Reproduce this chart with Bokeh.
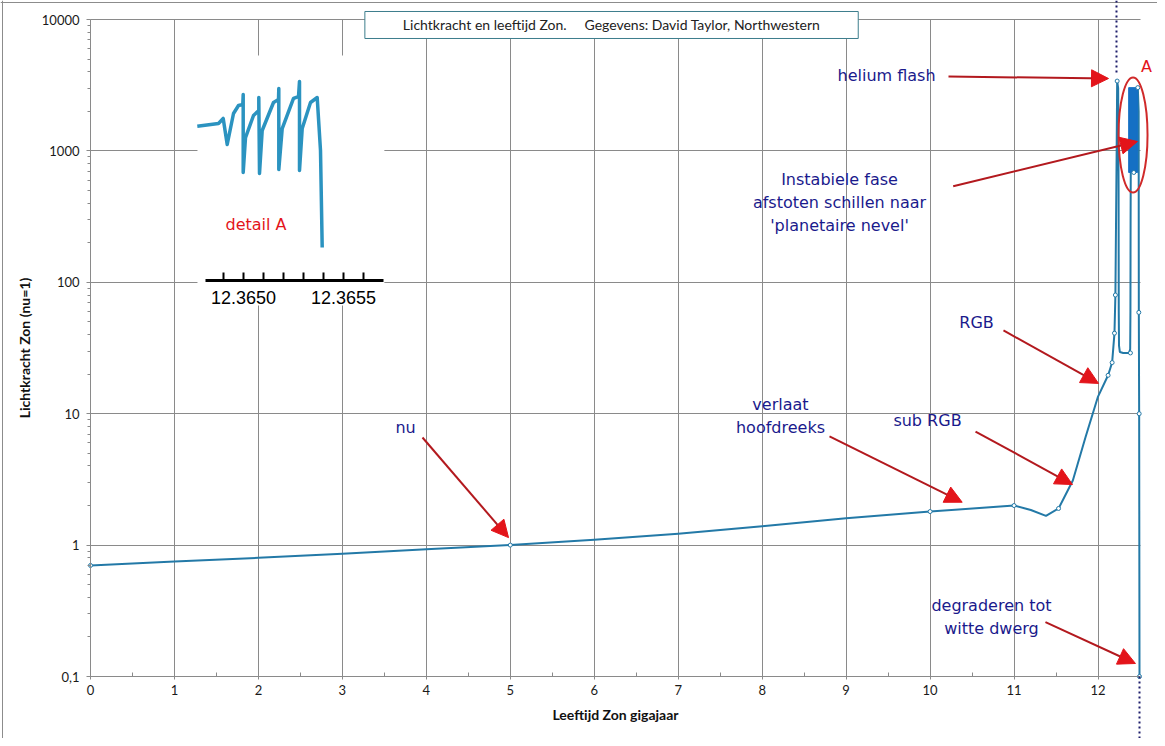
from bokeh.plotting import figure
from bokeh.models import (Range1d, FixedTicker, CustomJSTickFormatter,
                          Arrow, NormalHead, Label, Span)
from bokeh.embed import file_html
from bokeh.resources import INLINE
from bokeh.core.properties import value

# ---------------- data ----------------
age_gyr = [0, 1, 2, 3, 4, 5, 6, 7, 8, 9, 10, 11, 11.2, 11.38, 11.53, 11.7, 11.85,
           12.0, 12.12, 12.168, 12.196, 12.207, 12.222, 12.228,
           12.24, 12.245, 12.247, 12.25, 12.26, 12.30, 12.37, 12.383, 12.386, 12.388, 12.39,
           12.474, 12.484, 12.486, 12.49, 12.494]
luminosity = [0.70, 0.75, 0.80, 0.86, 0.93, 1.00, 1.10, 1.22, 1.39, 1.60, 1.80, 2.00, 1.85, 1.67, 1.90, 3.1, 6.6,
              13.5, 19.6, 24.5, 41, 80, 1000, 3400,
              3000, 500, 60, 33, 29.5, 29, 29, 31, 60, 300, 685,
              3030, 2000, 59, 10, 0.1]

marker_age = [0, 5, 10, 11, 11.53, 12.12, 12.168, 12.196, 12.207, 12.228, 12.386, 12.426, 12.474, 12.486, 12.49, 12.494]
marker_lum = [0.70, 1.00, 1.80, 2.00, 1.90, 19.6, 24.5, 41, 80, 3400, 29, 685, 3030, 59, 10, 0.1]

# thermal pulse band (region "A")
band_age_start = [12.365]
band_age_end = [12.47]
band_lum_low = [685]
band_lum_high = [3030]

# detail A (inset)
detail_age = [12.364769, 12.364875, 12.3648985, 12.3649185, 12.36495, 12.364975, 12.3649965,
              12.3649985, 12.3649985, 12.36501, 12.36505, 12.3650765, 12.3650765, 12.36508,
              12.3650935, 12.36515, 12.365175, 12.3651765, 12.3651765, 12.3651935, 12.36525,
              12.365275, 12.36528, 12.36528, 12.3652935, 12.365335, 12.3653685, 12.365385, 12.3653935]
detail_lum = [1542, 1617, 1766, 1119, 1926, 2217, 2256,
              2685, 685, 1264, 1860, 2030, 2548, 673,
              1430, 2335, 2462, 2985, 722, 1480, 2506,
              2594, 3376, 710, 1480, 2335, 2548, 1007, 184]
detail_ticks = [12.3649, 12.3650, 12.3651, 12.3652, 12.3653, 12.3654, 12.3655, 12.3656]
detail_tick_labels = ["12.3650", "12.3655"]
detail_label_ticks = [12.3650, 12.3655]

x_ticks = list(range(0, 13))
x_minor_ticks = [i + 0.5 for i in range(12)]
y_ticks = [0.1, 1, 10, 100, 1000, 10000]
y_minor_ticks = [k * 10.0 ** e for e in range(-1, 4) for k in range(2, 10)]

title_text = "Lichtkracht en leeftijd Zon.\u00a0\u00a0\u00a0\u00a0\u00a0Gegevens: David Taylor, Northwestern"
x_title = "Leeftijd Zon gigajaar"
y_title = "Lichtkracht Zon (nu=1)"

# ---------------- styles / layout ----------------
LINE = "#2379a7"
BAND = "#1570c4"
NAVY = "#1a1a8c"
RED = "#e3141a"
SHAFT = "#b3191e"
GRID = "#8a8a8a"

W, H = 1157, 738
LEFT_PX, TOP_PX = 90, 19          # canvas position of (0 Gyr, 10000)
PX_PER_GYR = 83.96
PX_PER_DECADE = 131.4
X_START = -LEFT_PX / PX_PER_GYR
X_END = (W - LEFT_PX) / PX_PER_GYR
Y_TOP = 10 ** (4 + TOP_PX / PX_PER_DECADE)
Y_BOTTOM = 10 ** (4 - (H - TOP_PX) / PX_PER_DECADE)

p = figure(width=W, height=H,
           x_range=Range1d(X_START, X_END), y_range=Range1d(Y_BOTTOM, Y_TOP),
           y_axis_type="log", output_backend="svg", toolbar_location=None,
           min_border_left=0, min_border_right=0, min_border_top=0, min_border_bottom=0)
p.outline_line_color = None
inset_start = 12.3650 - 243 * 5e-6
p.extra_x_ranges = {"inset": Range1d(inset_start, inset_start + W * 5e-6)}

# axes
xa = p.xaxis[0]
xa.ticker = FixedTicker(ticks=x_ticks, minor_ticks=x_minor_ticks)
xa.bounds = (0, 12.5)
xa.fixed_location = 0.1
xa.axis_label = x_title
ya = p.yaxis[0]
ya.ticker = FixedTicker(ticks=y_ticks, minor_ticks=y_minor_ticks)
ya.formatter = CustomJSTickFormatter(code="return String(tick).replace('.', ',');")
ya.bounds = (0.1, 10000)
ya.fixed_location = 0
ya.axis_label = y_title
for ax in (xa, ya):
    ax.axis_line_color = GRID
    ax.major_tick_line_color = GRID
    ax.minor_tick_line_color = GRID
    ax.major_label_text_font = "Lato"
    ax.major_label_text_font_size = "13px"
    ax.major_label_text_color = "#1a1a1a"
    ax.axis_label_text_font = "Lato"
    ax.axis_label_text_font_style = "bold"
    ax.axis_label_text_font_size = "14px"
    ax.axis_label_text_color = "#111111"
xa.major_tick_in = 0
xa.major_tick_out = 3
xa.minor_tick_in = 4
xa.minor_tick_out = 0
xa.major_label_standoff = 5
xa.axis_label_standoff = 8
ya.major_tick_in = 0
ya.major_tick_out = 4
ya.minor_tick_in = 0
ya.minor_tick_out = 3
ya.major_label_standoff = 7
ya.axis_label_standoff = 6

p.xgrid.grid_line_color = GRID
p.ygrid.grid_line_color = GRID
p.ygrid.cross_bounds = (0, 12.5)
p.xgrid.cross_bounds = (0.1, 10000)

# outer chart border (left and top edges)
p.add_layout(Span(location=(2 - LEFT_PX) / PX_PER_GYR, dimension="height",
                  line_color="#8c8c8c", line_width=1))
p.add_layout(Span(location=10 ** (4 + (TOP_PX - 2) / PX_PER_DECADE), dimension="width",
                  line_color="#8c8c8c", line_width=1))

# main series
p.line(age_gyr, luminosity, line_color=LINE, line_width=2, line_join="round")
p.quad(left=band_age_start, right=band_age_end, bottom=band_lum_low, top=band_lum_high,
       fill_color=BAND, line_color=BAND)
p.scatter(marker_age, marker_lum, marker="circle", size=4, fill_color="white",
          line_color=LINE, line_width=1)

# ellipse around region A
p.ellipse(x=[12.417], y=[1321], width=29, height=115, width_units="screen",
          height_units="screen", fill_color=None, line_color="#d02a2a", line_width=2)

# inset "detail A"
p.quad(left=[1.274], right=[3.50], bottom=[66.6], top=[5321], fill_color="white", line_color=None)
p.line(detail_age, detail_lum, x_range_name="inset", line_color="#2b93c0", line_width=3.5,
       line_join="round")
p.segment(x0=[12.36481], y0=[103.2], x1=[12.3657], y1=[103.2], x_range_name="inset",
          line_color="black", line_width=3)
p.segment(x0=detail_ticks, y0=[103.2] * len(detail_ticks), x1=detail_ticks,
          y1=[118.8] * len(detail_ticks), x_range_name="inset", line_color="black", line_width=2)
p.text(x=detail_label_ticks, y=[77] * len(detail_label_ticks), text=detail_tick_labels,
       x_range_name="inset", text_align="center", text_baseline="middle",
       text_font=value("Liberation Sans"), text_font_size="18px", text_color="black")

def note(text, x, y, color=NAVY, size="16px", font="DejaVu Sans"):
    p.add_layout(Label(x=x, y=y, text=text, text_color=color, text_font=font,
                       text_font_size=size, text_align="center", text_baseline="middle"))

note("detail A", 1.971, 275, color=RED)
note("A", 12.577, 4386, color=RED)
note("helium flash", 9.481, 3750)
note("Instabiele fase", 8.921, 605)
note("afstoten schillen naar", 8.921, 405)
note("'planetaire nevel'", 8.921, 270)
note("RGB", 10.553, 49.5)
note("sub RGB", 9.969, 8.87)
note("verlaat", 8.218, 11.75)
note("hoofdreeks", 8.218, 7.85)
note("nu", 3.752, 7.79)
note("degraderen tot", 10.731, 0.347)
note("witte dwerg", 10.731, 0.2317)

def arrow(x0, y0, x1, y1):
    p.add_layout(Arrow(end=NormalHead(size=17, fill_color=RED, line_color=RED),
                       x_start=x0, y_start=y0, x_end=x1, y_end=y1,
                       line_color=SHAFT, line_width=2))

arrow(10.219, 3682, 12.125, 3556)
arrow(10.275, 538, 12.470, 1179)
arrow(10.874, 43, 12.006, 17.0)
arrow(10.541, 7.32, 11.696, 2.89)
arrow(8.802, 6.71, 10.382, 2.12)
arrow(3.954, 6.59, 4.979, 1.14)
arrow(11.374, 0.259, 12.446, 0.1256)

# dotted guide lines
for xs, ys, xe, ye in [(12.220, Y_TOP, 12.220, 3950), (12.494, 0.1, 12.494, 0.0326)]:
    p.add_layout(Arrow(end=None, x_start=xs, y_start=ys, x_end=xe, y_end=ye,
                       line_color="#1d1d6b", line_width=2, line_dash="2 3"))

# title box
p.add_layout(Label(x=6.206, y=9083, text=title_text, text_font="Lato", text_font_size="14px",
                   text_color="#222222", text_align="center", text_baseline="middle",
                   background_fill_color="white", border_line_color="#3c7d8c",
                   border_line_width=1,
                   padding=dict(left=38, right=38, top=5, bottom=5)))

open("out.html", "w").write(file_html(p, INLINE))
